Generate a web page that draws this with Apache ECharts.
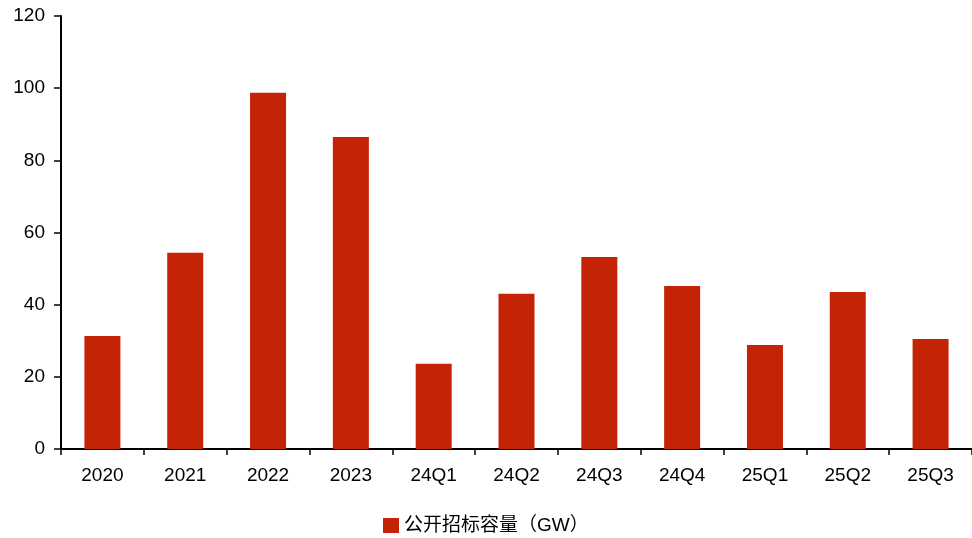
<!DOCTYPE html>
<html>
<head>
<meta charset="utf-8">
<script src="https://cdn.jsdelivr.net/npm/echarts@6/dist/echarts.min.js"></script>
<style>
html,body{margin:0;padding:0;background:#fff;}
#chart{width:972px;height:538px;}
</style>
</head>
<body>
<div id="chart"></div>
<script>
// Quarterly / annual public tender capacity (GW)
const categories = ['2020', '2021', '2022', '2023', '24Q1', '24Q2', '24Q3', '24Q4', '25Q1', '25Q2', '25Q3'];
const tenderCapacity = [31.3, 54.4, 98.7, 86.5, 23.6, 43.0, 53.2, 45.2, 28.8, 43.5, 30.5];
const seriesName = '公开招标容量（GW）';
const yTicks = { min: 0, max: 120, interval: 20 };

const font = '"Liberation Sans", Arial, "Noto Sans CJK SC", sans-serif';
const chart = echarts.init(document.getElementById('chart'));
chart.setOption({
  animation: false,
  textStyle: { fontFamily: font },
  grid: { left: 61, top: 16, width: 915, height: 433, containLabel: false },
  legend: {
    data: [seriesName],
    icon: 'rect',
    top: 511,
    left: 378,
    itemWidth: 16,
    itemHeight: 15,
    itemGap: 6,
    textStyle: { fontSize: 19, color: '#000', fontFamily: font }
  },
  xAxis: {
    type: 'category',
    data: categories,
    axisLine: { lineStyle: { color: '#000', width: 2 } },
    axisTick: { show: true, length: 6, lineStyle: { color: '#000', width: 1.5 } },
    axisLabel: { fontSize: 19, color: '#000', margin: 17 },
    splitLine: { show: false }
  },
  yAxis: {
    type: 'value',
    min: yTicks.min,
    max: yTicks.max,
    interval: yTicks.interval,
    axisLine: { show: true, lineStyle: { color: '#000', width: 2 } },
    axisTick: { show: true, length: 7, lineStyle: { color: '#000', width: 1.5 } },
    axisLabel: { fontSize: 19, color: '#000', margin: 16 },
    splitLine: { show: false }
  },
  series: [{
    name: seriesName,
    type: 'bar',
    data: tenderCapacity,
    barWidth: 36,
    itemStyle: { color: '#C52306' }
  }]
});
</script>
</body>
</html>
